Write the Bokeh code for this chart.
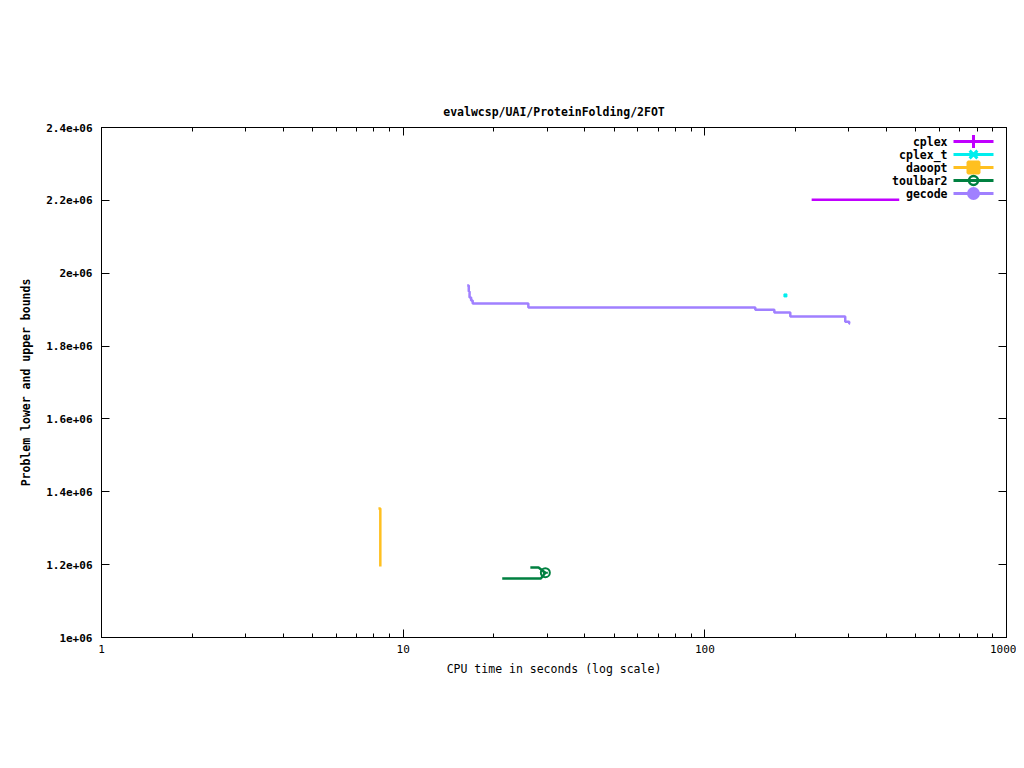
from bokeh.plotting import figure
from bokeh.models import FixedTicker, LinearAxis, LogAxis, Title
from bokeh.core.properties import value
from bokeh.embed import file_html
from bokeh.resources import INLINE
import math

# ---------------- data ----------------
title_text = "evalwcsp/UAI/ProteinFolding/2FOT"
x_label = "CPU time in seconds (log scale)"
y_label = "Problem lower and upper bounds"

x_ticks = [1, 10, 100, 1000]
x_tick_labels = ["1", "10", "100", "1000"]
y_ticks = [1.0e6, 1.2e6, 1.4e6, 1.6e6, 1.8e6, 2.0e6, 2.2e6, 2.4e6]
y_tick_labels = ["1e+06", "1.2e+06", "1.4e+06", "1.6e+06", "1.8e+06", "2e+06", "2.2e+06", "2.4e+06"]

series_names = ["cplex", "cplex_t", "daoopt", "toulbar2", "gecode"]
series_colors = ["#c000ff", "#00eeee", "#ffc020", "#008040", "#a080ff"]

cplex_t_time = [226, 441]
cplex_val = [2.202e6, 2.202e6]

cplexT_time = [185]
cplexT_val = [1.939e6]

daoopt_time = [8.28, 8.40, 8.40]
daoopt_val = [1.354e6, 1.354e6, 1.195e6]

toulbar2_time = [26.4, 28.1, 29.6, 28.6, 21.3]
toulbar2_val = [1.192e6, 1.192e6, 1.178e6, 1.162e6, 1.162e6]
toulbar2_mark_time = [29.6]
toulbar2_mark_val = [1.178e6]

gecode_time = [16.3, 16.5, 16.6, 16.8, 17.0, 26.0, 147, 170, 192, 292, 301, 303]
gecode_val = [1.966e6, 1.950e6, 1.933e6, 1.925e6, 1.917e6, 1.906e6, 1.900e6,
              1.892e6, 1.881e6, 1.867e6, 1.862e6, 1.862e6]

# ---------------- layout ----------------
W, H = 1016, 752
BL, BR, BT, BB = 101, 10, 127, 115
XMIN, XMAX = 1, 1000
YMIN, YMAX = 1.0e6, 2.4e6
FW = W - BL - BR
FH = H - BT - BB

def px_to_data(px, py):
    """frame-relative pixel (from frame top-left) -> data coords"""
    lx = math.log10(XMIN) + px / FW * (math.log10(XMAX) - math.log10(XMIN))
    y = YMAX - py / FH * (YMAX - YMIN)
    return 10 ** lx, y

FONT = "DejaVu Sans Mono"

p = figure(width=W, height=H, x_axis_type="log", x_range=(XMIN, XMAX), y_range=(YMIN, YMAX),
           output_backend="svg", toolbar_location=None,
           min_border_left=BL, min_border_right=BR, min_border_top=BT, min_border_bottom=BB)
p.background_fill_color = "white"
p.border_fill_color = "white"
p.outline_line_color = "black"
p.outline_line_width = 1
p.xgrid.visible = False
p.ygrid.visible = False

xt = FixedTicker(ticks=x_ticks, minor_ticks=[m * 10 ** d for d in range(0, 3) for m in range(2, 10)])
yt = FixedTicker(ticks=y_ticks, minor_ticks=[])

def style_axis(ax, show_labels=True):
    ax.axis_line_color = "black"
    ax.major_tick_line_color = "black"
    ax.minor_tick_line_color = "black"
    ax.major_tick_in = 8
    ax.major_tick_out = 0
    ax.minor_tick_in = 4
    ax.minor_tick_out = 0
    ax.major_label_text_font = FONT
    ax.major_label_text_font_size = "11px"
    ax.major_label_text_color = "black"
    if not show_labels:
        ax.major_label_text_alpha = 0
        ax.major_label_text_font_size = "1px"

xa = p.xaxis[0]
xa.ticker = xt
xa.major_label_overrides = {t: l for t, l in zip(x_ticks, x_tick_labels)}
style_axis(xa)
xa.major_label_standoff = 7
xa.axis_label = x_label
xa.axis_label_text_font = FONT
xa.axis_label_text_font_size = "11.5px"
xa.axis_label_text_font_style = "normal"
xa.axis_label_text_color = "black"
xa.axis_label_standoff = 6

ya = p.yaxis[0]
ya.ticker = yt
ya.major_label_overrides = {t: l for t, l in zip(y_ticks, y_tick_labels)}
style_axis(ya)
ya.major_label_text_font_style = "bold"
ya.major_label_standoff = 9
ya.axis_label = y_label
ya.axis_label_text_font = FONT
ya.axis_label_text_font_size = "11.5px"
ya.axis_label_text_font_style = "bold"
ya.axis_label_text_color = "black"
ya.axis_label_standoff = 10

top_ax = LogAxis(ticker=xt)
style_axis(top_ax, False)
p.add_layout(top_ax, "above")
right_ax = LinearAxis(ticker=yt)
style_axis(right_ax, False)
p.add_layout(right_ax, "right")

p.title = Title(text=title_text, align="center", text_font=FONT, text_font_size="11.5px",
                text_font_style="bold", text_color="black", standoff=17)

# ---------------- series ----------------
c = dict(zip(series_names, series_colors))
p.line(cplex_t_time, cplex_val, line_color=c["cplex"], line_width=2.5)
p.scatter(cplexT_time, cplexT_val, marker="square", size=3, fill_color=c["cplex_t"], line_color=c["cplex_t"])
p.step(daoopt_time, daoopt_val, mode="after", line_color=c["daoopt"], line_width=2.5)
p.line(toulbar2_time, toulbar2_val, line_color=c["toulbar2"], line_width=2.5)
p.scatter(toulbar2_mark_time, toulbar2_mark_val, marker="circle", size=9, fill_color=None,
          line_color=c["toulbar2"], line_width=2)
p.scatter(toulbar2_mark_time, toulbar2_mark_val, marker="dash", size=5,
          line_color=c["toulbar2"], line_width=2)
p.step(gecode_time, gecode_val, mode="after", line_color=c["gecode"], line_width=2.5)

# ---------------- legend (manual, labels left of samples) ----------------
legend_markers = ["cross", "x", "square", "circle", "circle"]
legend_fill = [None, None, "self", None, "self"]
row0, row_h = 14, 13
for i, (name, col, mk, fl) in enumerate(zip(series_names, series_colors, legend_markers, legend_fill)):
    ypx = row0 + i * row_h
    x0, yv = px_to_data(852, ypx)
    x1, _ = px_to_data(892, ypx)
    xm, _ = px_to_data(872, ypx)
    xtx, _ = px_to_data(846, ypx)
    p.line([x0, x1], [yv, yv], line_color=col, line_width=3)
    if mk == "circle" and fl is None:
        p.scatter([xm], [yv], marker="circle", size=9, fill_color=None, line_color=col, line_width=2.5)
        p.scatter([xm], [yv], marker="dash", size=5, line_color=col, line_width=2)
    else:
        size = {"cross": 13, "x": 11, "square": 11, "circle": 10}[mk]
        p.scatter([xm], [yv], marker=mk, size=size, line_color=col, line_width=3,
                  fill_color=(col if fl == "self" else None))
    p.text([xtx], [yv], text=[name], text_font=value(FONT), text_font_size="11.5px",
           text_font_style="bold", text_align="right", text_baseline="middle", text_color="black")

open("out.html", "w").write(file_html(p, INLINE))
